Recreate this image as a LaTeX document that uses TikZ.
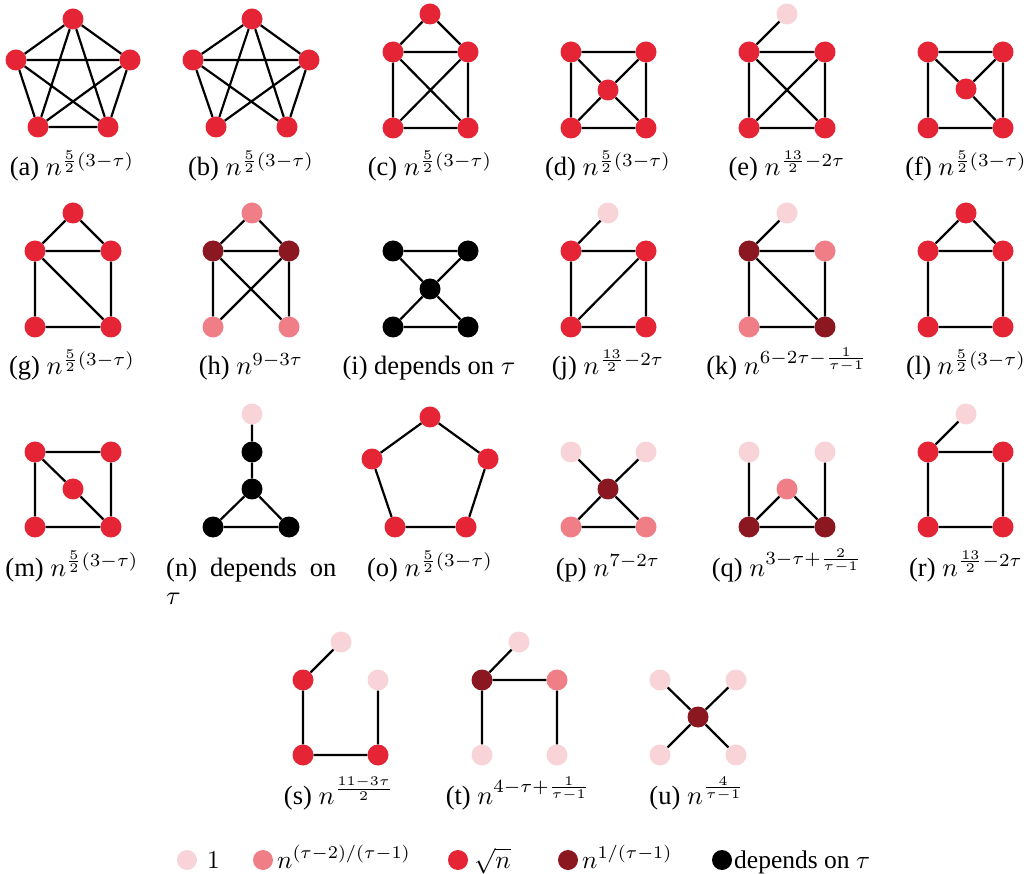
\documentclass[tikz,border=0pt]{standalone}
\usepackage{graphicx}
\usepackage{fontspec}
\setmainfont{Liberation Serif}
\definecolor{cone}{RGB}{248,212,217}
\definecolor{cmed}{RGB}{240,126,135}
\definecolor{cred}{RGB}{229,37,53}
\definecolor{cdark}{RGB}{139,23,32}
\newcommand{\lblsc}[1]{\scalebox{2.65}{#1}}
\newcommand{\lgdsc}[1]{\scalebox{2.55}{#1}}
\tikzset{
  vx/.style={circle, minimum size=21pt, inner sep=0pt},
  nOne/.style={vx, fill=cone},
  nMed/.style={vx, fill=cmed},
  nRed/.style={vx, fill=cred},
  nDark/.style={vx, fill=cdark},
  nBlk/.style={vx, fill=black},
  ed/.style={line width=2.2pt, black},
  lbl/.style={anchor=base, inner sep=0pt, font=\fontsize{10}{12}\selectfont},
  lgd/.style={anchor=base west, inner sep=0pt, font=\fontsize{10}{12}\selectfont},
}
\begin{document}
\begin{tikzpicture}[x=1pt, y=-1pt]
\useasboundingbox (0,0) rectangle (1034,874);
% (a)
\node[nRed] (a1) at (73,19) {};
\node[nRed] (a2) at (16,60) {};
\node[nRed] (a3) at (130,60) {};
\node[nRed] (a4) at (38,127) {};
\node[nRed] (a5) at (108,127) {};
\draw[ed] (a1)--(a2) (a1)--(a3) (a1)--(a4) (a1)--(a5) (a2)--(a3) (a2)--(a4) (a2)--(a5) (a3)--(a4) (a3)--(a5) (a4)--(a5);
\node[lbl] (la) at (72,176) {\lblsc{(a) $n^{\frac{5}{2}(3-\tau)}$}};
% (b)
\node[nRed] (b1) at (252,19) {};
\node[nRed] (b2) at (193,60) {};
\node[nRed] (b3) at (309,60) {};
\node[nRed] (b4) at (216,127) {};
\node[nRed] (b5) at (287,127) {};
\draw[ed] (b1)--(b2) (b1)--(b3) (b1)--(b4) (b1)--(b5) (b2)--(b3) (b2)--(b4) (b2)--(b5) (b3)--(b4) (b3)--(b5);
\node[lbl] (lb) at (251,176) {\lblsc{(b) $n^{\frac{5}{2}(3-\tau)}$}};
% (c)
\node[nRed] (c1) at (430,14) {};
\node[nRed] (c2) at (393,52) {};
\node[nRed] (c3) at (468,52) {};
\node[nRed] (c4) at (393,128) {};
\node[nRed] (c5) at (468,128) {};
\draw[ed] (c1)--(c2) (c1)--(c3) (c2)--(c3) (c2)--(c4) (c3)--(c5) (c4)--(c5) (c2)--(c5) (c3)--(c4);
\node[lbl] (lc) at (430,176) {\lblsc{(c) $n^{\frac{5}{2}(3-\tau)}$}};
% (d)
\node[nRed] (d1) at (571,52) {};
\node[nRed] (d2) at (646,52) {};
\node[nRed] (d3) at (608,90) {};
\node[nRed] (d4) at (571,128) {};
\node[nRed] (d5) at (646,128) {};
\draw[ed] (d1)--(d2) (d1)--(d4) (d2)--(d5) (d4)--(d5) (d3)--(d1) (d3)--(d2) (d3)--(d4) (d3)--(d5);
\node[lbl] (ld) at (608,176) {\lblsc{(d) $n^{\frac{5}{2}(3-\tau)}$}};
% (e)
\node[nOne] (e0) at (787,14) {};
\node[nRed] (e1) at (749,52) {};
\node[nRed] (e2) at (825,52) {};
\node[nRed] (e3) at (749,128) {};
\node[nRed] (e4) at (825,128) {};
\draw[ed] (e0)--(e1) (e1)--(e2) (e1)--(e3) (e2)--(e4) (e3)--(e4) (e1)--(e4) (e2)--(e3);
\node[lbl] (le) at (787,176) {\lblsc{(e) $n^{\frac{13}{2}-2\tau}$}};
% (f)
\node[nRed] (f1) at (928,52) {};
\node[nRed] (f2) at (1003,52) {};
\node[nRed] (f3) at (966,89) {};
\node[nRed] (f4) at (928,128) {};
\node[nRed] (f5) at (1003,128) {};
\draw[ed] (f1)--(f2) (f1)--(f4) (f2)--(f5) (f4)--(f5) (f1)--(f3) (f2)--(f3) (f3)--(f5);
\node[lbl] (lf) at (966,176) {\lblsc{(f) $n^{\frac{5}{2}(3-\tau)}$}};
% (g)
\node[nRed] (g1) at (73,213) {};
\node[nRed] (g2) at (35,251) {};
\node[nRed] (g3) at (111,251) {};
\node[nRed] (g4) at (35,327) {};
\node[nRed] (g5) at (111,327) {};
\draw[ed] (g1)--(g2) (g1)--(g3) (g2)--(g3) (g2)--(g4) (g3)--(g5) (g4)--(g5) (g2)--(g5);
\node[lbl] (lg) at (72,375) {\lblsc{(g) $n^{\frac{5}{2}(3-\tau)}$}};
% (h)
\node[nMed] (h1) at (252,213) {};
\node[nDark] (h2) at (213,251) {};
\node[nDark] (h3) at (289,251) {};
\node[nMed] (h4) at (213,327) {};
\node[nMed] (h5) at (289,327) {};
\draw[ed] (h1)--(h2) (h1)--(h3) (h2)--(h3) (h2)--(h4) (h3)--(h5) (h2)--(h5) (h3)--(h4);
\node[lbl] (lh) at (251,375) {\lblsc{(h) $n^{9-3\tau}$}};
% (i)
\node[nBlk] (i1) at (393,251) {};
\node[nBlk] (i2) at (468,251) {};
\node[nBlk] (i3) at (430,289) {};
\node[nBlk] (i4) at (393,327) {};
\node[nBlk] (i5) at (468,327) {};
\draw[ed] (i1)--(i2) (i1)--(i3) (i2)--(i3) (i3)--(i4) (i3)--(i5) (i4)--(i5);
\node[lbl] (li) at (429,375) {\lblsc{(i) depends on $\tau$}};
% (j)
\node[nOne] (j0) at (608,213) {};
\node[nRed] (j1) at (571,251) {};
\node[nRed] (j2) at (646,251) {};
\node[nRed] (j3) at (571,327) {};
\node[nRed] (j4) at (646,327) {};
\draw[ed] (j0)--(j1) (j1)--(j2) (j1)--(j3) (j2)--(j4) (j3)--(j4) (j2)--(j3);
\node[lbl] (lj) at (608,375) {\lblsc{(j) $n^{\frac{13}{2}-2\tau}$}};
% (k)
\node[nOne] (k0) at (787,213) {};
\node[nDark] (k1) at (749,251) {};
\node[nMed] (k2) at (825,251) {};
\node[nMed] (k3) at (749,327) {};
\node[nDark] (k4) at (825,327) {};
\draw[ed] (k0)--(k1) (k1)--(k2) (k1)--(k3) (k2)--(k4) (k3)--(k4) (k1)--(k4);
\node[lbl] (lk) at (787,375) {\lblsc{(k) $n^{6-2\tau-\frac{1}{\tau-1}}$}};
% (l)
\node[nRed] (l1) at (966,213) {};
\node[nRed] (l2) at (928,251) {};
\node[nRed] (l3) at (1003,251) {};
\node[nRed] (l4) at (928,327) {};
\node[nRed] (l5) at (1003,327) {};
\draw[ed] (l1)--(l2) (l1)--(l3) (l2)--(l3) (l2)--(l4) (l3)--(l5) (l4)--(l5);
\node[lbl] (ll) at (966,375) {\lblsc{(l) $n^{\frac{5}{2}(3-\tau)}$}};
% (m)
\node[nRed] (m1) at (35,452) {};
\node[nRed] (m2) at (111,452) {};
\node[nRed] (m3) at (73,489) {};
\node[nRed] (m4) at (35,527) {};
\node[nRed] (m5) at (111,527) {};
\draw[ed] (m1)--(m2) (m1)--(m4) (m2)--(m5) (m4)--(m5) (m1)--(m3) (m3)--(m5);
\node[lbl] (lm) at (72,576) {\lblsc{(m) $n^{\frac{5}{2}(3-\tau)}$}};
% (n)
\node[nOne] (n0) at (252,414) {};
\node[nBlk] (n1) at (252,452) {};
\node[nBlk] (n2) at (252,489) {};
\node[nBlk] (n3) at (213,527) {};
\node[nBlk] (n4) at (289,527) {};
\draw[ed] (n0)--(n1) (n1)--(n2) (n2)--(n3) (n2)--(n4) (n3)--(n4);
\node[lgd] (ln1) at (166,576) {\lblsc{\hbox to 64.2pt{(n)\hfill depends\hfill on}}};
\node[lgd] (ln2) at (166,604) {\lblsc{$\tau$}};
% (o)
\node[nRed] (o1) at (430,417) {};
\node[nRed] (o2) at (372,459) {};
\node[nRed] (o3) at (488,459) {};
\node[nRed] (o4) at (395,527) {};
\node[nRed] (o5) at (466,527) {};
\draw[ed] (o1)--(o2) (o1)--(o3) (o2)--(o4) (o3)--(o5) (o4)--(o5);
\node[lbl] (lo) at (430,576) {\lblsc{(o) $n^{\frac{5}{2}(3-\tau)}$}};
% (p)
\node[nOne] (p1) at (571,452) {};
\node[nOne] (p2) at (646,452) {};
\node[nDark] (p3) at (608,489) {};
\node[nMed] (p4) at (571,527) {};
\node[nMed] (p5) at (646,527) {};
\draw[ed] (p3)--(p1) (p3)--(p2) (p3)--(p4) (p3)--(p5) (p4)--(p5);
\node[lbl] (lp) at (608,576) {\lblsc{(p) $n^{7-2\tau}$}};
% (q)
\node[nOne] (q1) at (749,452) {};
\node[nOne] (q2) at (825,452) {};
\node[nMed] (q3) at (787,489) {};
\node[nDark] (q4) at (749,527) {};
\node[nDark] (q5) at (825,527) {};
\draw[ed] (q1)--(q4) (q2)--(q5) (q4)--(q5) (q3)--(q4) (q3)--(q5);
\node[lbl] (lq) at (787,576) {\lblsc{(q) $n^{3-\tau+\frac{2}{\tau-1}}$}};
% (r)
\node[nOne] (r0) at (966,414) {};
\node[nRed] (r1) at (928,452) {};
\node[nRed] (r2) at (1003,452) {};
\node[nRed] (r3) at (928,527) {};
\node[nRed] (r4) at (1003,527) {};
\draw[ed] (r0)--(r1) (r1)--(r2) (r1)--(r3) (r2)--(r4) (r3)--(r4);
\node[lbl] (lr) at (966,576) {\lblsc{(r) $n^{\frac{13}{2}-2\tau}$}};
% (s)
\node[nOne] (s0) at (341,642) {};
\node[nRed] (s1) at (303,680) {};
\node[nOne] (s2) at (378,680) {};
\node[nRed] (s3) at (303,755) {};
\node[nRed] (s4) at (378,755) {};
\draw[ed] (s0)--(s1) (s1)--(s3) (s3)--(s4) (s4)--(s2);
\node[lbl] (ls) at (339,804) {\lblsc{(s) $n^{\frac{11-3\tau}{2}}$}};
% (t)
\node[nOne] (t0) at (519,642) {};
\node[nDark] (t1) at (482,680) {};
\node[nMed] (t2) at (557,680) {};
\node[nOne] (t3) at (482,755) {};
\node[nOne] (t4) at (557,755) {};
\draw[ed] (t0)--(t1) (t1)--(t2) (t1)--(t3) (t2)--(t4);
\node[lbl] (lt) at (518,804) {\lblsc{(t) $n^{4-\tau+\frac{1}{\tau-1}}$}};
% (u)
\node[nOne] (u1) at (660,680) {};
\node[nOne] (u2) at (736,680) {};
\node[nDark] (u3) at (698,717) {};
\node[nOne] (u4) at (660,755) {};
\node[nOne] (u5) at (736,755) {};
\draw[ed] (u3)--(u1) (u3)--(u2) (u3)--(u4) (u3)--(u5);
\node[lbl] (lu) at (697,804) {\lblsc{(u) $n^{\frac{4}{\tau-1}}$}};
% legend
\node[nOne, minimum size=20pt] (k1c) at (187,860) {};
\node[lgd] (k1t) at (207,868) {\lgdsc{$1$}};
\node[nMed, minimum size=20pt] (k2c) at (263,860) {};
\node[lgd] (k2t) at (277,868) {\lgdsc{$n^{(\tau-2)/(\tau-1)}$}};
\node[nRed, minimum size=20pt] (k3c) at (458,860) {};
\node[lgd] (k3t) at (474,868) {\lgdsc{$\sqrt{n}$}};
\node[nDark, minimum size=20pt] (k4c) at (568,860) {};
\node[lgd] (k4t) at (582,868) {\lgdsc{$n^{1/(\tau-1)}$}};
\node[nBlk, minimum size=20pt] (k5c) at (722,860) {};
\node[lgd] (k5t) at (734,868) {\lgdsc{depends on $\tau$}};
\end{tikzpicture}
\end{document}
